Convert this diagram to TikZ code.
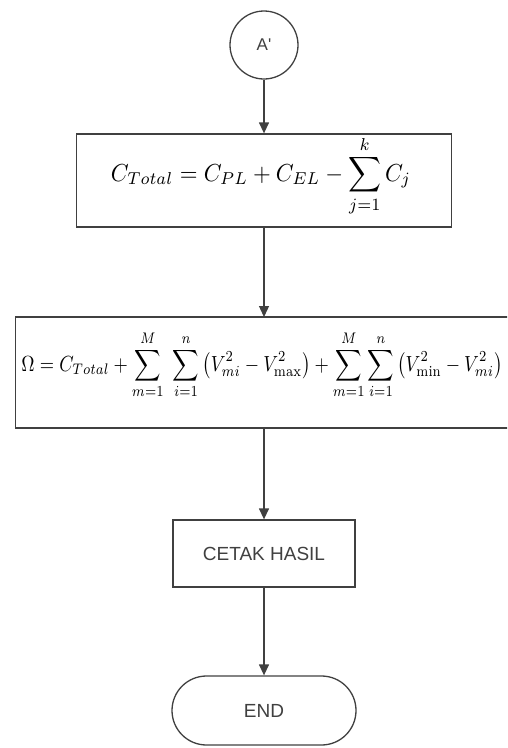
\documentclass[tikz,border=0pt]{standalone}
\usepackage{fontspec}
\usepackage{amsmath}
\usepackage{graphicx}
\newfontfamily\labelfont{Liberation Sans}
\usetikzlibrary{arrows.meta,shapes.misc}
\begin{document}
\begin{tikzpicture}[x=1pt,y=-1pt,
  ln/.style={draw=black!75, line width=1.3pt},
  arr/.style={ln, -{Triangle[width=10pt,length=11pt]}},
  boxstyle/.style={ln, rectangle, inner sep=0pt},
  lbl/.style={font=\labelfont\fontsize{19}{22}\selectfont, text=black!75}
]
\useasboundingbox (0,0) rectangle (507,748);
\begin{scope}
\clip (0,0) rectangle (507,748);
% connector circle
\node[ln, circle, minimum size=68pt, inner sep=0pt, lbl, font=\labelfont\fontsize{17}{20}\selectfont] (a) at (264,45) {A'};
% box 1
\node[boxstyle, minimum width=375pt, minimum height=93pt] (b1) at (264,180.5) {};
\node[inner sep=0pt] (f1) at (261,176) {\resizebox*{300pt}{80pt}{$\displaystyle C_{Total}=C_{PL}+C_{EL}-\sum_{j=1}^{k}C_j$}};
% box 2 (right edge beyond the picture)
\node[boxstyle, minimum width=510pt, minimum height=111pt, anchor=west] (b2) at (15,372.5) {};
\coordinate (b2top) at (264,317);
\coordinate (b2bot) at (264,428);
\node[inner sep=0pt] (f2) at (262,365) {\resizebox*{481pt}{68pt}{$\displaystyle \Omega=C_{Total}+\sum_{m=1}^{M}\ \sum_{i=1}^{n}\left(V_{mi}^{2}-V_{\max}^{2}\right)+\sum_{m=1}^{M}\sum_{i=1}^{n}\left(V_{\min}^{2}-V_{mi}^{2}\right)$}};
% box 3
\node[boxstyle, minimum width=182pt, minimum height=67pt, lbl] (b3) at (264,553.5) {CETAK HASIL};
% end terminal
\node[ln, rounded rectangle, minimum width=184pt, minimum height=69pt, inner sep=0pt, lbl] (e) at (264,710.5) {END};
% connectors
\draw[arr] (a.south) -- (b1.north);
\draw[arr] (b1.south) -- (b2top);
\draw[arr] (b2bot) -- (b3.north);
\draw[arr] (b3.south) -- (e.north);
\end{scope}
\end{tikzpicture}
\end{document}
